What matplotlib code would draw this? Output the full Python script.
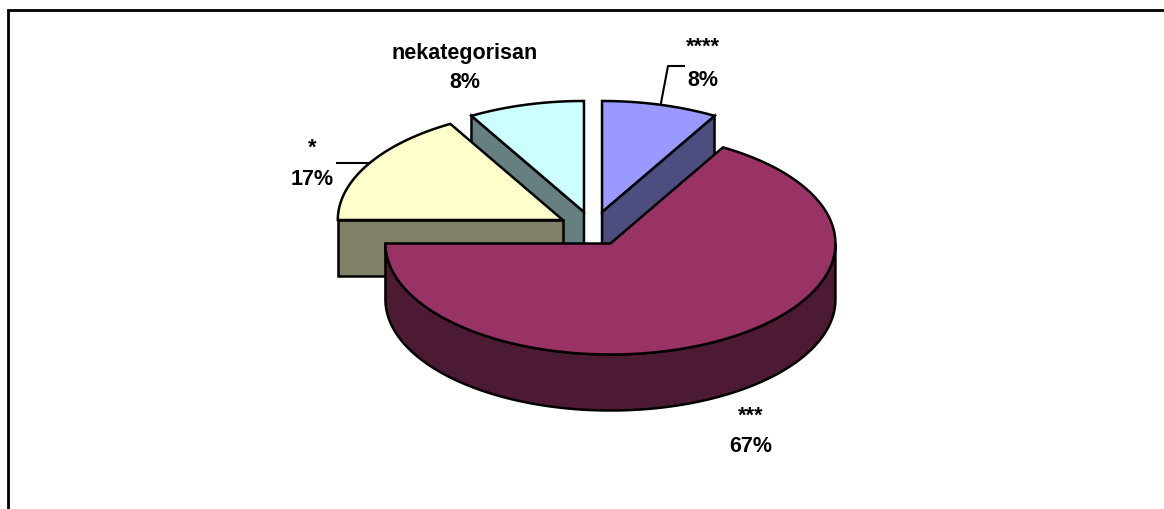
import numpy as np
import matplotlib
matplotlib.use("Agg")
import matplotlib.pyplot as plt
from matplotlib.patches import Polygon

# ---- data ----
categories = ['****', '***', '*', 'nekategorisan']
values = [1, 8, 2, 1]
top_colors = ['#9999FF', '#993366', '#FFFFCC', '#CCFFFF']
side_colors = ['#4D4D80', '#4D1A33', '#808066', '#668080']

# ---- layout (pixel space) ----
W, H = 1164, 510
cx, cy = 593.0, 229.6      # pie centre
ra, rb = 225.0, 111.0      # ellipse radii of the top face
depth = 56.0               # thickness of the pie
explode = 0.155            # explode fraction of radius
lw = 1.8

fig = plt.figure(figsize=(W / 100, H / 100), dpi=100)
ax = fig.add_axes([0, 0, 1, 1])
ax.set_xlim(0, W)
ax.set_ylim(H, 0)
ax.axis('off')

total = float(sum(values))
spans = [v / total * 360.0 for v in values]

# Excel style: start at 12 o'clock, go clockwise
slices = []
t_end = 90.0
for i, s in enumerate(spans):
    t1 = t_end
    t0 = t_end - s
    t_end = t0
    mid = np.radians((t0 + t1) / 2)
    ox = explode * ra * np.cos(mid)
    oy = -explode * rb * np.sin(mid)
    slices.append(dict(i=i, t0=t0, t1=t1, mid=mid, ox=ox, oy=oy))


def pt(sl, theta_deg, r=1.0, z=0.0):
    th = np.radians(theta_deg)
    return (cx + sl['ox'] + r * ra * np.cos(th),
            cy + sl['oy'] - r * rb * np.sin(th) + z)


def arc(sl, a0, a1, z=0.0, n=200):
    ts = np.linspace(a0, a1, n)
    return [pt(sl, t, 1.0, z) for t in ts]


def draw_poly(pts, fc):
    ax.add_patch(Polygon(pts, closed=True, facecolor=fc, edgecolor='black',
                         linewidth=lw, joinstyle='miter'))


# back slices first
order = sorted(slices, key=lambda s: -np.sin(s['mid']))
for sl in order:
    i = sl['i']
    t0, t1 = sl['t0'], sl['t1']
    sc = side_colors[i]
    # radial cut faces
    if np.cos(np.radians(t0)) > 1e-6:
        c0, c1 = pt(sl, t0, 0), pt(sl, t0, 1)
        draw_poly([c0, c1, (c1[0], c1[1] + depth), (c0[0], c0[1] + depth)], sc)
    if np.cos(np.radians(t1)) < -1e-6:
        c0, c1 = pt(sl, t1, 0), pt(sl, t1, 1)
        draw_poly([c0, c1, (c1[0], c1[1] + depth), (c0[0], c0[1] + depth)], sc)
    # outer curved side (front half: 180..360 deg)
    for k in (-1, 0, 1):
        lo = max(t0, -180 + 360 * k)
        hi = min(t1, 0 + 360 * k)
        if hi - lo > 1e-6:
            topa = arc(sl, lo, hi, 0)
            bota = arc(sl, hi, lo, depth)
            draw_poly(topa + bota, sc)
    # top face
    draw_poly([pt(sl, t0, 0)] + arc(sl, t0, t1, 0), top_colors[i])

# ---- labels ----
pcts = [f"{round(v / total * 100):d}%" for v in values]
fs = 15.5
fam = ['Liberation Sans', 'DejaVu Sans']
label_pos = {
    0: (703, 47, 81),
    1: (751, 416, 447),
    2: (312, 148, 180),
    3: (465, 54, 83),
}
for i, (x, y1, y2) in label_pos.items():
    ax.text(x, y1, categories[i], ha='center', va='center', fontsize=fs,
            fontweight='bold', family=fam)
    ax.text(x, y2, pcts[i], ha='center', va='center', fontsize=fs,
            fontweight='bold', family=fam)

# leader lines
ax.plot([661, 668, 684], [104, 67, 67], color='black', lw=1.5)
ax.plot([337, 369], [164, 164], color='black', lw=1.5)

# chart frame (partially cropped)
ax.plot([8, 8, W + 5], [H + 5, 11, 11], color='black', lw=2.0,
        solid_joinstyle='miter', clip_on=False)

fig.savefig('out.png', dpi=100)
